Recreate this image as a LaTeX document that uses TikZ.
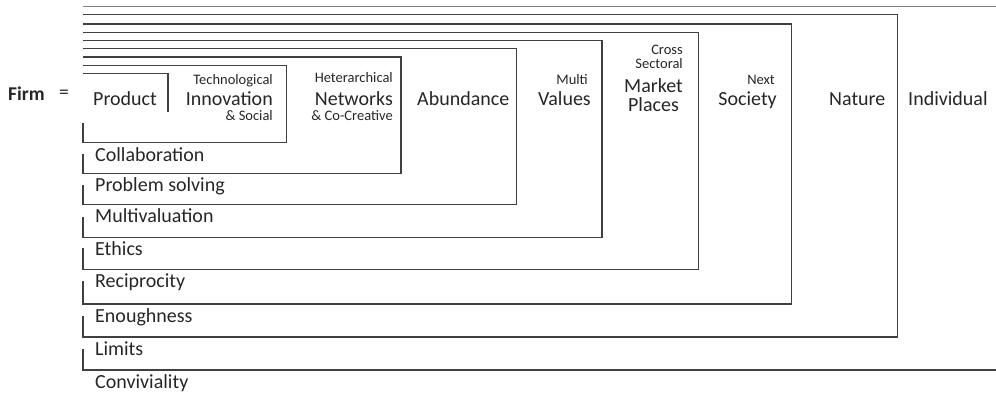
\documentclass[tikz,border=0pt]{standalone}
\usepackage{fontspec}
\setmainfont{Carlito}
\begin{document}
\begin{tikzpicture}[x=1pt,y=-1pt,
  box/.style={draw=black!75, line width=1.3pt},
  thinline/.style={draw=black!50, line width=1pt},
  big/.style={font=\fontsize{20}{24}\selectfont, inner sep=0pt, text=black!85},
  small/.style={font=\fontsize{14.5}{17}\selectfont, inner sep=0pt, text=black!85},
  flat/.style={text depth=0pt}]
\useasboundingbox (0,0) rectangle (996,394);
% nested boxes
\draw[box] (83,73.3) -- (168,73.3) -- (168,111.7);
\draw[box] (83,123) -- (83,142.5) -- (286.7,142.5) -- (286.7,65.3) -- (83,65.3);
\draw[box] (83,153.5) -- (83,173.3) -- (401,173.3) -- (401,57) -- (83,57);
\draw[box] (83,185) -- (83,204.3) -- (516.7,204.3) -- (516.7,48.7) -- (83,48.7);
\draw[box] (83,216.5) -- (83,237.3) -- (602,237.3) -- (602,40.3) -- (83,40.3);
\draw[box] (83,248) -- (83,269.3) -- (698.7,269.3) -- (698.7,32.3) -- (83,32.3);
\draw[box] (83,281) -- (83,304) -- (791.7,304) -- (791.7,24) -- (83,24);
\draw[box] (83,316) -- (83,337) -- (897.7,337) -- (897.7,14.7) -- (83,14.7);
\draw[box] (83,348.5) -- (83,370) -- (996,370);
\draw[thinline] (83,6) -- (996,6);
% left
\node[font=\bfseries\fontsize{19.5}{23}\selectfont, inner sep=0pt, anchor=base west, text=black!85] (firm) at (8,100) {Firm};
\node[font=\fontsize{19.5}{23}\selectfont, inner sep=0pt, text=black!85] (eq) at (64,94) {=};
% top labels
\node[big, anchor=base west] (product) at (93,105) {Product};
\node[small, anchor=base east] (tech) at (273,84.5) {Technological};
\node[big, flat, anchor=base east] (innov) at (273,105.5) {Innovation};
\node[small, anchor=base east] (social) at (273,120) {\& Social};
\node[small, anchor=base east] (heter) at (393,82) {Heterarchical};
\node[big, flat, anchor=base east] (netw) at (393,105) {Networks};
\node[small, anchor=base east] (cocr) at (393,120.5) {\& Co-Creative};
\node[big, anchor=base west] (abund) at (417,105) {Abundance};
\node[small, anchor=base east] (multi) at (588,84.5) {Multi};
\node[big, anchor=base east] (values) at (591,105) {Values};
\node[small, flat, anchor=base east] (cross) at (683,54.5) {Cross};
\node[small, anchor=base east] (sect) at (683,68) {Sectoral};
\node[big, flat, anchor=base] (market) at (653.5,92.5) {Market};
\node[big, anchor=base] (places) at (653.5,111.5) {Places};
\node[small, anchor=base east] (next) at (775,84.5) {Next};
\node[big, anchor=base east] (society) at (777,105) {Society};
\node[big, anchor=base west] (nature) at (829,105) {Nature};
\node[big, anchor=base west] (indiv) at (908,105) {Individual};
% bottom labels
\node[big, anchor=base west] (collab) at (95,161) {Collaboration};
\node[big, anchor=base west] (probl) at (95,191.8) {Problem solving};
\node[big, anchor=base west] (multiv) at (95,222.8) {Multivaluation};
\node[big, anchor=base west] (ethics) at (95,255.8) {Ethics};
\node[big, anchor=base west] (recip) at (95,287.8) {Reciprocity};
\node[big, anchor=base west] (enough) at (95,322.5) {Enoughness};
\node[big, anchor=base west] (limits) at (95,355.5) {Limits};
\node[big, anchor=base west] (conviv) at (95,388.5) {Conviviality};
\end{tikzpicture}
\end{document}
